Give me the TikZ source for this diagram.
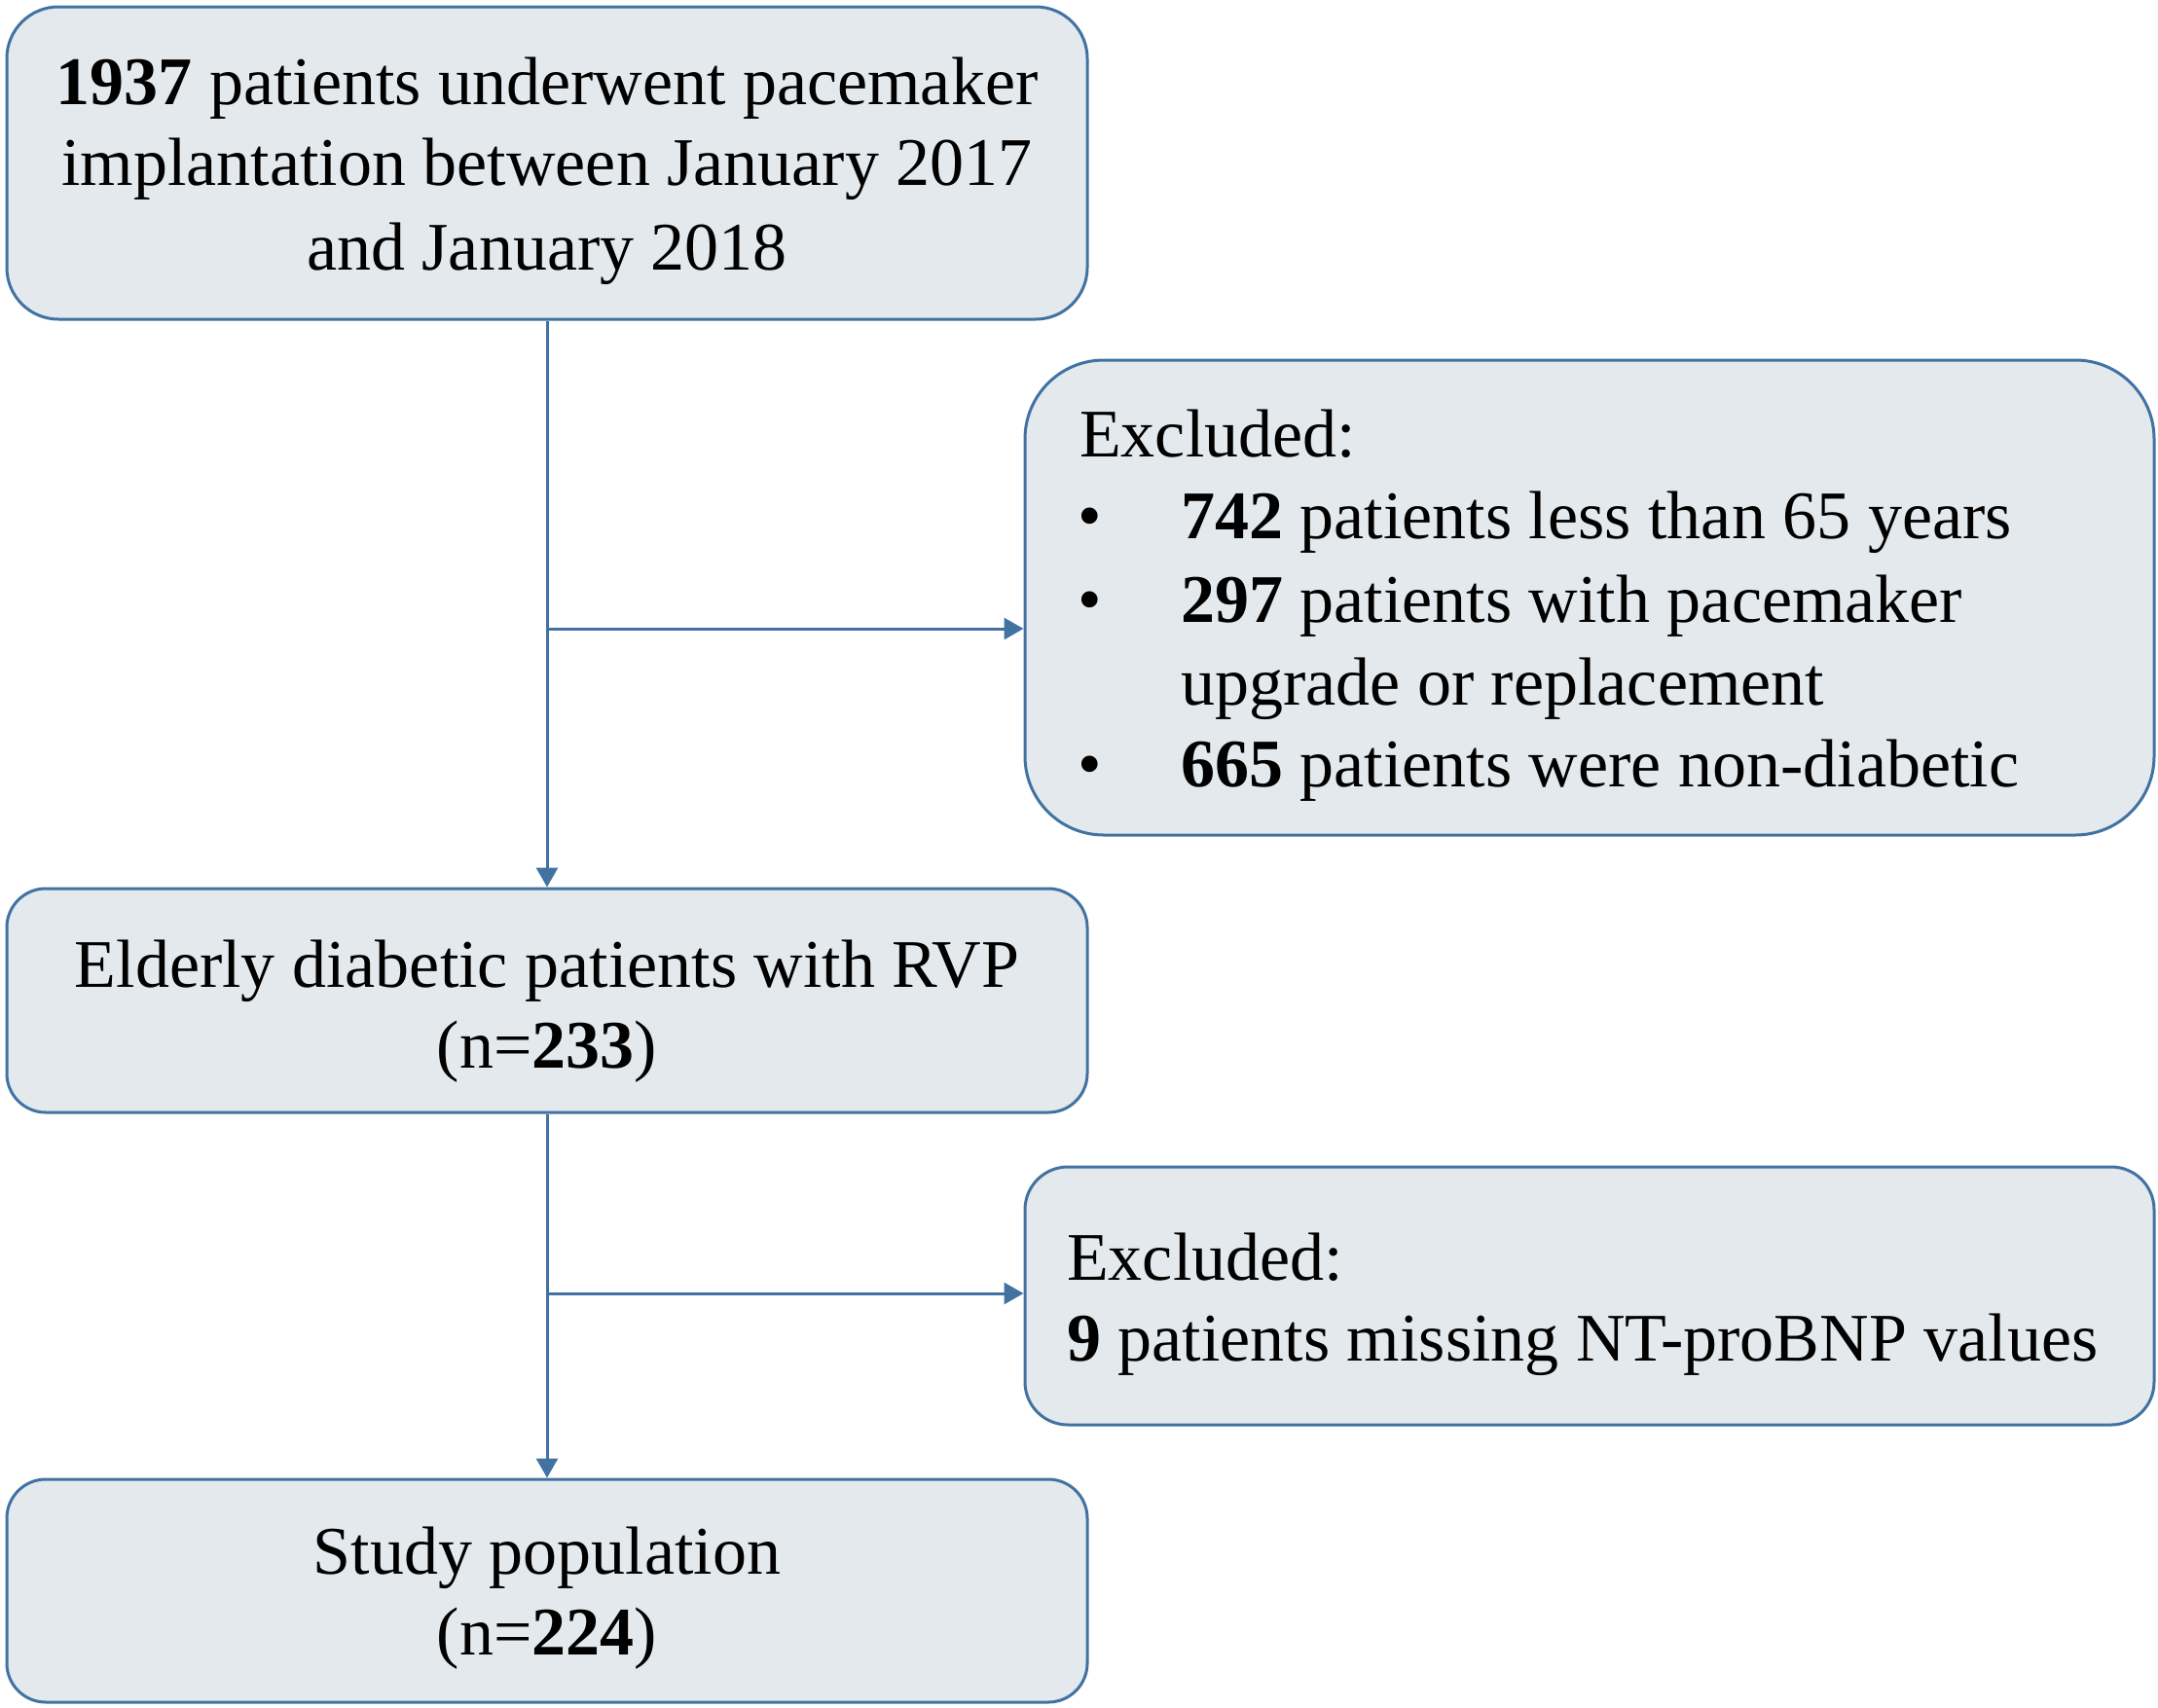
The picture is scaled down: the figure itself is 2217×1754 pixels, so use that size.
\documentclass[tikz,border=0pt]{standalone}
\usepackage{fontspec}
\setmainfont{Liberation Serif}
\usetikzlibrary{arrows.meta}
\definecolor{boxline}{RGB}{66,114,162}
\definecolor{boxfill}{RGB}{227,233,237}
\begin{document}
\begin{tikzpicture}[x=1pt,y=-1pt,
  box/.style={draw=boxline,fill=boxfill,line width=3pt,rectangle,inner sep=0pt},
  txt/.style={anchor=base,inner sep=0pt,font=\fontsize{70}{84}\selectfont},
  txtl/.style={anchor=base west,inner sep=0pt,font=\fontsize{70}{84}\selectfont},
  conn/.style={draw=boxline,line width=3pt},
  arr/.style={conn,-{Triangle[width=22pt,length=20pt]}}]
\useasboundingbox[fill=white] (0,0) rectangle (2217,1754);
% boxes
\node[box,rounded corners=53pt,minimum width=1110pt,minimum height=321pt] (top) at (562,167.5) {};
\node[box,rounded corners=81pt,minimum width=1160pt,minimum height=488pt] (ex1) at (1633,614) {};
\node[box,rounded corners=40pt,minimum width=1110pt,minimum height=230pt] (mid) at (562,1028) {};
\node[box,rounded corners=44pt,minimum width=1160pt,minimum height=265pt] (ex2) at (1633,1331.5) {};
\node[box,rounded corners=40pt,minimum width=1110pt,minimum height=229pt] (bot) at (562,1634.5) {};
% texts
\node[txt] (t1) at (562,107) {\textbf{1937} patients underwent pacemaker};
\node[txt] (t2) at (562,190) {implantation between January 2017};
\node[txt] (t3) at (562,277) {and January 2018};
\node[txtl] (e1) at (1109,469) {Excluded:};
\node[txt] (b1) at (1120,553) {•};
\node[txtl] (e2) at (1213,553) {\textbf{742} patients less than 65 years};
\node[txt] (b2) at (1120,639) {•};
\node[txtl] (e3) at (1213,639) {\textbf{297} patients with pacemaker};
\node[txtl] (e4) at (1213,724) {upgrade or replacement};
\node[txt] (b3) at (1120,808) {•};
\node[txtl] (e5) at (1213,808) {\textbf{665} patients were non-diabetic};
\node[txt] (m1) at (562,1014) {Elderly diabetic patients with RVP};
\node[txt] (m2) at (562,1097) {(n=\textbf{233})};
\node[txtl] (x1) at (1096,1315) {Excluded:};
\node[txtl] (x2) at (1096,1398) {\textbf{9} patients missing NT-proBNP values};
\node[txt] (s1) at (562,1617) {Study population};
\node[txt] (s2) at (562,1700) {(n=\textbf{224})};
% connectors
\coordinate (j1) at (562,646);
\coordinate (j2) at (562,1329);
\draw[arr] (top.south) -- (mid.north);
\draw[arr] (j1) -- (j1 -| ex1.west);
\draw[arr] (mid.south) -- (bot.north);
\draw[arr] (j2) -- (j2 -| ex2.west);
\end{tikzpicture}
\end{document}
